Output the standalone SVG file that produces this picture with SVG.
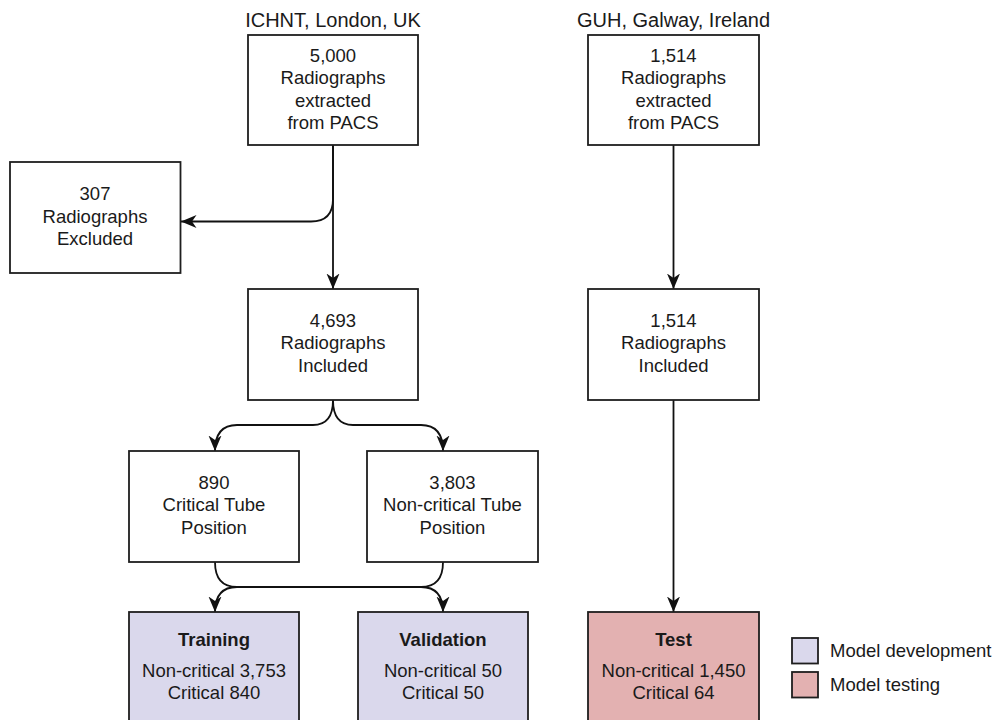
<svg xmlns="http://www.w3.org/2000/svg" width="995" height="720" viewBox="0 0 995 720">
<defs>
<style>
.box{fill:#ffffff;stroke:#1e1e1e;stroke-width:1.8}
.dev{fill:#dad8ec;stroke:#1e1e1e;stroke-width:1.8}
.tst{fill:#e3b1b1;stroke:#1e1e1e;stroke-width:1.8}
.t{font-family:"Liberation Sans",Arial,sans-serif;font-size:18.5px;fill:#1a1a1a;text-anchor:middle}
.b{font-weight:bold}
.h{font-size:20px}
.l{text-anchor:start}
.e{fill:none;stroke:#111111;stroke-width:1.8}
</style>
<marker id="arr" viewBox="0 0 16 14" refX="15.5" refY="7" markerWidth="16" markerHeight="14" markerUnits="userSpaceOnUse" orient="auto">
<path d="M0,0.5 L15.5,7 L0,13.5 L4.5,7 z" fill="#111111"/>
</marker>
</defs>
<rect width="995" height="720" fill="#ffffff"/>

<g id="connectors">
<path class="e" d="M333,145 V199 Q333,221.5 311,221.5 H181" marker-end="url(#arr)"/>
<path class="e" d="M333,145 V289" marker-end="url(#arr)"/>
<path class="e" d="M333,400 Q333,425 313,425 H237 Q215,425 215,451" marker-end="url(#arr)"/>
<path class="e" d="M333,400 Q333,425 353,425 H421 Q443,425 443,451" marker-end="url(#arr)"/>
<path class="e" d="M215,562 Q215,587 237,587 H421 Q443,587 443,612" marker-end="url(#arr)"/>
<path class="e" d="M443,562 Q443,587 421,587 H237 Q215,587 215,612" marker-end="url(#arr)"/>
<path class="e" d="M673.5,145 V289" marker-end="url(#arr)"/>
<path class="e" d="M673.5,400 V612" marker-end="url(#arr)"/>
</g>

<g id="label-ichnt"><text class="t h" x="333" y="26.5">ICHNT, London, UK</text></g>
<g id="label-guh"><text class="t h" x="673.5" y="26.5">GUH, Galway, Ireland</text></g>

<g id="n-5000">
<rect class="box" x="248" y="35" width="170" height="110"/>
<text class="t" x="333" y="61.5">5,000</text>
<text class="t" x="333" y="84">Radiographs</text>
<text class="t" x="333" y="106.5">extracted</text>
<text class="t" x="333" y="129">from PACS</text>
</g>

<g id="n-307">
<rect class="box" x="10" y="162" width="170.5" height="111"/>
<text class="t" x="95" y="200">307</text>
<text class="t" x="95" y="222.5">Radiographs</text>
<text class="t" x="95" y="245">Excluded</text>
</g>

<g id="n-4693">
<rect class="box" x="248" y="289" width="170" height="111"/>
<text class="t" x="333" y="326.5">4,693</text>
<text class="t" x="333" y="349">Radiographs</text>
<text class="t" x="333" y="371.5">Included</text>
</g>

<g id="n-890">
<rect class="box" x="129" y="451" width="170" height="111"/>
<text class="t" x="214" y="488.5">890</text>
<text class="t" x="214" y="511">Critical Tube</text>
<text class="t" x="214" y="533.5">Position</text>
</g>

<g id="n-3803">
<rect class="box" x="367" y="451" width="171" height="111"/>
<text class="t" x="452.5" y="488.5">3,803</text>
<text class="t" x="452.5" y="511">Non-critical Tube</text>
<text class="t" x="452.5" y="533.5">Position</text>
</g>

<g id="n-training">
<rect class="dev" x="129" y="612" width="170" height="130"/>
<text class="t b" x="214" y="646">Training</text>
<text class="t" x="214" y="676.5">Non-critical 3,753</text>
<text class="t" x="214" y="699">Critical 840</text>
</g>

<g id="n-validation">
<rect class="dev" x="358" y="612" width="170" height="130"/>
<text class="t b" x="443" y="646">Validation</text>
<text class="t" x="443" y="676.5">Non-critical 50</text>
<text class="t" x="443" y="699">Critical 50</text>
</g>

<g id="n-1514a">
<rect class="box" x="588" y="35" width="171" height="110"/>
<text class="t" x="673.5" y="61.5">1,514</text>
<text class="t" x="673.5" y="84">Radiographs</text>
<text class="t" x="673.5" y="106.5">extracted</text>
<text class="t" x="673.5" y="129">from PACS</text>
</g>

<g id="n-1514b">
<rect class="box" x="588" y="289" width="171" height="111"/>
<text class="t" x="673.5" y="326.5">1,514</text>
<text class="t" x="673.5" y="349">Radiographs</text>
<text class="t" x="673.5" y="371.5">Included</text>
</g>

<g id="n-test">
<rect class="tst" x="588" y="612" width="171" height="130"/>
<text class="t b" x="673.5" y="646">Test</text>
<text class="t" x="673.5" y="676.5">Non-critical 1,450</text>
<text class="t" x="673.5" y="699">Critical 64</text>
</g>

<g id="legend">
<rect class="dev" x="792" y="638" width="26" height="25.5"/>
<text class="t l" x="830" y="657">Model development</text>
<rect class="tst" x="792" y="672" width="26" height="25.5"/>
<text class="t l" x="830" y="690.5">Model testing</text>
</g>
</svg>
